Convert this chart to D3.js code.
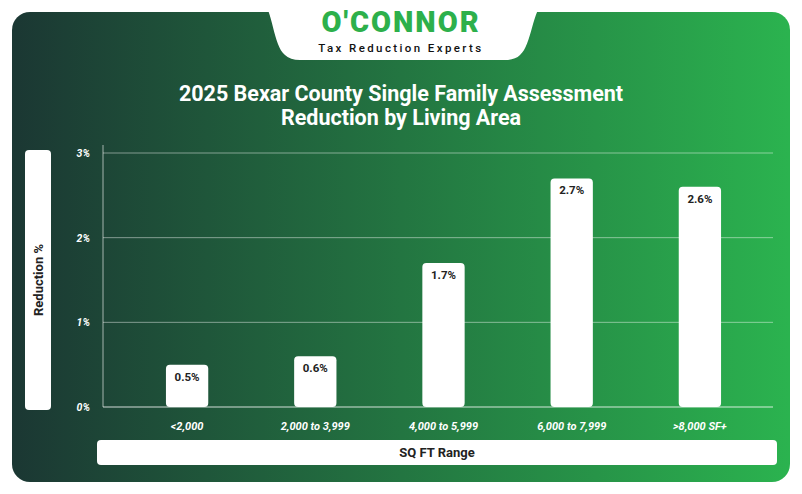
<!DOCTYPE html>
<html><head><meta charset="utf-8">
<script src="https://cdn.jsdelivr.net/npm/d3@7"></script>
<style>body{margin:0;background:#fff}svg{display:block;font-family:Roboto,sans-serif}</style>
</head><body><svg id="c" width="802" height="494"></svg>
<script>
var categories = ['<2,000', '2,000 to 3,999', '4,000 to 5,999', '6,000 to 7,999', '>8,000 SF+'];
var reductions = [0.5, 0.6, 1.7, 2.7, 2.6];
var yTicks = [0, 1, 2, 3];

var svg = d3.select('#c');
var defs = svg.append('defs');
var g = defs.append('linearGradient').attr('id', 'bg').attr('x1', 0).attr('x2', 1).attr('y1', 0).attr('y2', 0);
g.append('stop').attr('offset', 0).attr('stop-color', '#1b3733');
g.append('stop').attr('offset', 1).attr('stop-color', '#2bb34f');
svg.append('rect').attr('x', 12).attr('y', 12).attr('width', 778).attr('height', 470).attr('rx', 18).attr('fill', 'url(#bg)');

// logo tab
svg.append('path').attr('d', 'M262,0 L545,0 C532,10 532,45 520,55 Q515,60 505,60 L300,60 Q290,60 285,55 C273,45 273,10 262,0 Z').attr('fill', '#fff');
svg.append('text').attr('x', 401).attr('y', 32).attr('text-anchor', 'middle').attr('font-size', 29).attr('font-weight', 900).attr('fill', '#2db04b').attr('letter-spacing', 2).text("O'CONNOR");
svg.append('text').attr('x', 401).attr('y', 52).attr('text-anchor', 'middle').attr('font-size', 11.5).attr('font-weight', 500).attr('fill', '#111').attr('letter-spacing', 2.4).text('Tax Reduction Experts');

svg.append('text').attr('x', 401).attr('y', 101).attr('text-anchor', 'middle').attr('font-size', 21.5).attr('font-weight', 700).attr('fill', '#fff').text('2025 Bexar County Single Family Assessment');
svg.append('text').attr('x', 401).attr('y', 125).attr('text-anchor', 'middle').attr('font-size', 21.5).attr('font-weight', 700).attr('fill', '#fff').text('Reduction by Living Area');

var x = d3.scaleBand().domain(categories).range([123, 764]).paddingInner(0.67).paddingOuter(0.335);
var y = d3.scaleLinear().domain([0, 3]).range([407, 153]);

svg.append('g').selectAll('line').data(yTicks).join('line')
  .attr('x1', 103).attr('x2', 773).attr('y1', d => y(d)).attr('y2', d => y(d))
  .attr('stroke', '#fff').attr('stroke-opacity', d => d === 0 ? 0.8 : 0.45);
svg.append('line').attr('x1', 103).attr('x2', 103).attr('y1', 145).attr('y2', 407).attr('stroke', '#fff').attr('stroke-opacity', 0.6);
svg.append('g').selectAll('text').data(yTicks).join('text')
  .attr('x', 90).attr('y', d => y(d) + 4).attr('text-anchor', 'end').attr('font-size', 10.5).attr('font-weight', 700).attr('font-style', 'italic').attr('fill', '#fff').text(d => d + '%');

svg.append('g').selectAll('rect').data(reductions).join('rect')
  .attr('x', (d, i) => x(categories[i])).attr('width', x.bandwidth())
  .attr('y', d => y(d)).attr('height', d => y(0) - y(d)).attr('rx', 4).attr('fill', '#fff');
svg.append('g').selectAll('text').data(reductions).join('text')
  .attr('x', (d, i) => x(categories[i]) + x.bandwidth() / 2).attr('y', d => y(d) + 16)
  .attr('text-anchor', 'middle').attr('font-size', 11.5).attr('font-weight', 700).attr('fill', '#222').text(d => d.toFixed(1) + '%');
svg.append('g').selectAll('text').data(categories).join('text')
  .attr('x', d => x(d) + x.bandwidth() / 2).attr('y', 430).attr('text-anchor', 'middle')
  .attr('font-size', 11).attr('font-weight', 700).attr('font-style', 'italic').attr('fill', '#fff').text(d => d);

// axis title boxes
svg.append('rect').attr('x', 25).attr('y', 150).attr('width', 26).attr('height', 260).attr('rx', 4).attr('fill', '#fff');
svg.append('text').attr('transform', 'translate(43,280) rotate(-90)').attr('text-anchor', 'middle').attr('font-size', 13).attr('font-weight', 700).attr('fill', '#222').text('Reduction %');
svg.append('rect').attr('x', 97).attr('y', 440).attr('width', 680).attr('height', 25).attr('rx', 4).attr('fill', '#fff');
svg.append('text').attr('x', 437).attr('y', 457).attr('text-anchor', 'middle').attr('font-size', 13).attr('font-weight', 700).attr('fill', '#222').text('SQ FT Range');
</script></body></html>
